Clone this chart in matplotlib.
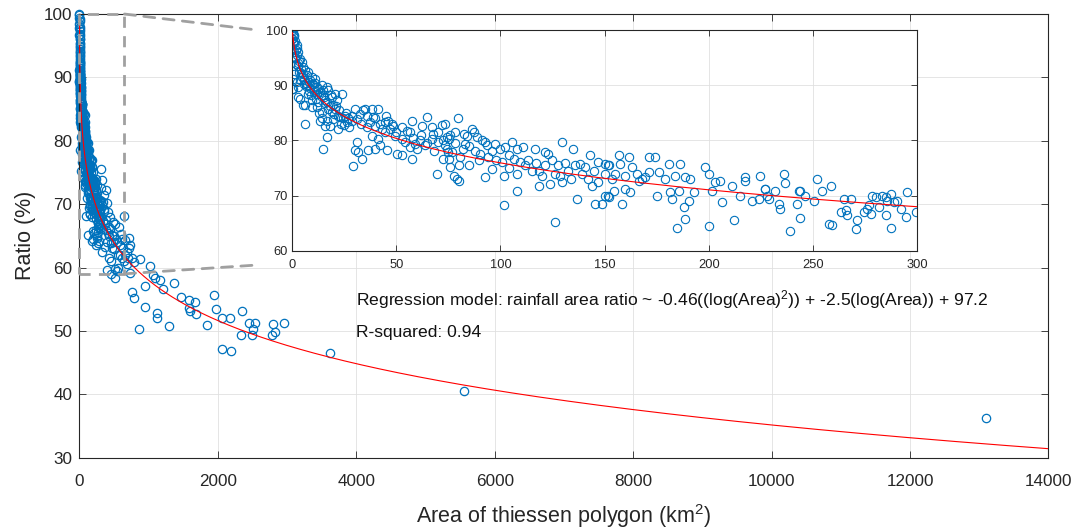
import numpy as np
import matplotlib.pyplot as plt
from matplotlib.patches import Rectangle, ConnectionPatch

plt.rcParams['font.family'] = ['Liberation Sans', 'DejaVu Sans']
plt.rcParams['mathtext.fontset'] = 'custom'
plt.rcParams['mathtext.rm'] = 'Liberation Sans'
plt.rcParams['mathtext.it'] = 'Liberation Sans:italic'
plt.rcParams['mathtext.bf'] = 'Liberation Sans:bold'

# (area km2, ratio %)
pts_small = [
    (0.2, 100.0), (0.6, 99.4), (0.2, 98.5), (1.1, 97.6), (0.2, 96.7), (2.2, 97.3),
    (3.0, 96.1), (1.4, 95.2), (3.8, 94.8), (4.6, 94.2), (3.0, 93.6), (5.4, 93.3),
    (6.2, 92.7), (7.8, 92.4), (7.0, 91.8), (9.4, 91.5), (8.6, 90.9), (11.0, 91.2),
    (10.2, 90.3), (11.8, 89.7), (12.6, 89.4), (14.2, 90.0), (16.6, 89.7), (13.4, 88.8),
    (15.0, 88.2), (17.4, 89.1), (20.6, 88.5), (23.8, 88.5), (19.0, 87.9), (21.4, 87.3),
    (15.8, 87.3), (12.6, 87.0), (9.4, 86.1), (6.2, 86.4), (3.8, 87.6), (3.0, 89.7),
    (0.2, 89.4), (0.6, 91.2), (2.2, 90.6), (6.2, 83.0), (13.4, 83.6), (16.6, 83.6),
    (15.8, 82.7), (19.0, 85.2), (19.8, 83.9), (22.2, 82.1), (16.6, 80.6), (15.0, 78.5),
    (18.2, 82.7), (14.2, 85.2), (17.4, 85.8), (20.6, 85.8), (23.0, 84.2), (25.4, 84.5),
    (0.3, 89.3), (1.0, 92.1), (3.0, 87.9), (5.4, 86.4), (0.5, 99.8), (0.8, 98.9),
    (1.5, 98.0), (1.8, 96.5), (2.5, 95.5), (2.8, 94.0), (4.2, 93.0), (5.0, 91.5),
    (6.8, 90.5), (8.0, 89.0), (9.0, 88.2), (10.5, 88.8), (11.5, 87.5), (12.0, 86.0),
    (13.0, 85.0), (14.5, 84.0), (16.0, 86.8), (18.0, 86.3), (20.0, 84.8), (22.5, 85.5),
    (24.5, 84.0), (26.5, 83.3), (27.5, 82.5), (4.0, 91.0), (7.5, 88.5), (3.5, 92.5),
    (9.8, 87.3), (1.2, 99.2), (0.4, 97.8), (2.0, 93.8), (5.8, 90.2),
    (0.9, 96.0), (1.6, 95.0), (2.4, 96.8), (3.2, 94.5), (4.4, 92.3), (5.2, 92.0),
    (6.0, 91.0), (6.6, 89.8), (7.2, 90.0), (8.2, 90.6), (8.8, 89.5), (9.6, 90.2),
    (10.8, 89.2), (11.2, 90.5), (12.2, 88.5), (13.8, 88.0), (14.8, 89.2), (15.5, 87.8),
    (17.0, 87.0), (18.5, 88.2), (19.5, 86.5), (21.0, 86.2), (22.0, 84.5), (23.5, 83.0),
    (25.0, 82.8), (26.0, 85.0), (27.0, 84.0),
]

pts_30_75 = [
    (28.6, 84.5), (30.2, 85.8), (31.0, 83.9), (35.0, 85.8), (32.6, 84.8), (38.2, 85.8),
    (41.4, 85.8), (39.0, 84.2), (39.8, 82.7), (37.4, 83.3), (44.6, 83.3), (46.2, 83.6),
    (47.8, 83.0), (48.6, 82.7), (43.0, 82.1), (44.6, 81.5), (41.4, 80.3), (38.2, 80.9),
    (35.8, 82.4), (31.0, 79.7), (30.2, 78.2), (31.8, 77.9), (33.4, 76.7), (29.4, 75.3),
    (36.6, 78.2), (39.8, 78.5), (42.2, 79.1), (45.4, 78.2), (50.2, 77.6), (52.6, 77.3),
    (49.4, 80.9), (52.6, 80.3), (55.0, 81.8), (56.6, 81.5), (57.4, 83.6), (54.2, 79.7),
    (56.6, 78.8), (59.0, 79.4), (57.4, 76.7), (61.4, 80.0), (63.8, 79.1), (67.0, 80.3),
    (67.8, 81.2), (64.6, 84.2), (62.2, 82.7), (67.0, 82.4), (71.8, 82.8), (70.2, 81.5),
    (72.6, 80.0), (74.2, 80.6), (73.4, 79.1), (69.4, 73.9), (72.6, 76.7), (75.0, 77.9),
    (29.0, 83.5), (33.0, 83.0), (34.0, 85.5), (36.0, 84.5), (40.0, 84.0), (42.0, 83.0),
    (45.0, 84.5), (47.0, 82.0), (50.0, 81.5), (53.0, 82.5), (58.0, 80.5), (60.0, 78.5),
    (62.0, 81.0), (65.0, 79.5), (68.0, 78.0), (70.0, 79.8),
]

pts_75_150 = [
    (73.5, 83.0), (75.1, 80.3), (79.5, 84.1), (78.3, 81.5), (82.3, 81.2), (83.9, 80.9),
    (86.3, 82.1), (87.1, 81.5), (88.7, 80.6), (91.1, 80.0), (92.6, 79.7), (93.4, 79.1),
    (97.5, 79.4), (99.9, 78.5), (102.3, 78.8), (105.5, 79.8), (107.9, 78.5), (111.0, 78.8),
    (116.7, 78.5), (121.5, 77.9), (123.0, 77.6), (129.5, 79.7), (135.0, 78.5), (143.0, 77.3),
    (147.0, 76.1), (150.2, 75.8), (76.7, 77.9), (80.7, 77.0), (79.9, 75.5), (77.5, 73.6),
    (79.9, 72.7), (79.1, 73.0), (84.7, 75.5), (89.5, 76.4), (92.6, 73.3), (95.9, 74.8),
    (101.5, 73.6), (100.7, 76.1), (103.9, 77.3), (106.3, 76.7), (109.5, 76.1), (111.9, 75.5),
    (115.1, 74.5), (118.3, 74.5), (121.5, 75.5), (124.6, 76.4), (127.8, 75.5), (128.6, 73.6),
    (129.5, 72.4), (132.6, 74.5), (135.8, 75.5), (138.2, 75.8), (140.6, 75.2), (143.8, 71.8),
    (142.2, 73.0), (147.0, 72.4), (150.2, 73.9), (151.8, 75.5), (101.5, 68.2), (107.9, 70.9),
    (118.3, 71.8), (123.9, 72.1), (126.2, 65.2), (136.6, 69.4), (145.4, 68.5), (148.6, 68.5),
    (151.8, 70.0), (75.1, 76.7), (75.9, 75.2), (83.1, 79.4), (74.3, 78.5),
    (76.0, 81.0), (78.0, 79.5), (82.0, 78.5), (85.0, 79.0), (88.0, 78.0), (90.0, 77.5),
    (94.0, 77.0), (96.0, 78.0), (98.0, 76.5), (104.0, 75.0), (108.0, 74.0), (113.0, 76.5),
    (117.0, 76.0), (120.0, 73.5), (126.0, 74.0), (131.0, 76.0), (134.0, 73.0), (139.0, 74.0),
    (145.0, 74.5),
]

pts_150_230 = [
    (151.9, 75.5), (156.7, 77.3), (157.5, 75.8), (161.5, 77.0), (163.1, 75.1), (155.1, 73.9),
    (159.9, 73.6), (165.5, 73.9), (167.9, 73.0), (171.1, 77.0), (174.3, 77.0), (171.1, 74.2),
    (175.9, 74.2), (180.7, 75.8), (186.3, 75.8), (179.1, 73.0), (183.9, 73.6), (188.7, 73.3),
    (191.1, 73.0), (185.5, 70.9), (182.3, 69.4), (181.5, 70.6), (192.7, 70.6), (190.3, 69.1),
    (187.9, 67.9), (188.7, 65.8), (184.7, 64.2), (175.1, 70.0), (169.5, 73.3), (166.3, 72.7),
    (158.3, 68.5), (151.9, 69.7), (154.3, 70.9), (159.9, 71.2), (162.3, 70.6), (198.3, 75.1),
    (199.9, 73.9), (203.1, 72.4), (205.5, 72.7), (201.5, 70.9), (206.3, 68.8), (211.1, 71.8),
    (215.1, 70.0), (217.5, 73.3), (217.5, 72.7), (224.7, 73.6), (227.1, 71.2), (220.7, 69.1),
    (223.9, 69.4), (228.7, 69.4), (199.9, 64.5), (211.9, 65.5), (150.3, 70.0), (153.5, 73.0),
]

pts_230_300 = [
    (227.1, 71.2), (227.9, 70.0), (231.9, 70.9), (233.5, 68.5), (234.3, 67.6), (235.9, 73.9),
    (236.7, 72.2), (239.1, 63.6), (242.3, 68.5), (243.1, 70.9), (243.9, 70.8), (243.9, 65.9),
    (246.3, 70.0), (250.3, 69.1), (251.9, 73.0), (254.3, 70.9), (258.3, 71.8), (257.5, 64.9),
    (259.1, 64.6), (263.1, 67.0), (264.7, 69.4), (265.5, 67.3), (266.3, 66.4), (267.9, 69.4),
    (270.3, 63.9), (271.1, 65.6), (274.3, 67.0), (275.9, 67.6), (276.7, 68.2), (277.5, 66.7),
    (278.3, 70.0), (279.9, 69.7), (281.5, 67.9), (283.1, 70.0), (284.7, 69.7), (284.7, 66.4),
    (285.5, 69.1), (287.1, 70.3), (287.1, 64.2), (288.7, 68.8), (290.3, 69.1), (291.9, 67.6),
    (294.3, 66.2), (295.1, 70.6), (299.1, 67.0),
]

pts_300_800 = [
    (310, 75.5), (330, 73.8), (350, 71.4), (380, 72.3), (320, 69.9), (340, 67.4),
    (360, 68.9), (380, 65.9), (400, 70.1), (410, 68.8), (420, 66.4), (430, 64.9),
    (440, 67.9), (460, 63.9), (471, 65.2), (480, 67.2), (500, 62.9), (519, 66.9),
    (530, 64.5), (550, 62.0), (567, 66.4), (580, 63.5), (600, 65.3), (615, 61.5),
    (630, 63.0), (645, 68.2), (650, 61.0), (663, 64.4), (680, 62.5), (711, 64.6),
    (711, 63.0), (735, 63.6), (783, 60.9), (423, 61.5), (519, 59.7), (399, 59.6),
    (735, 59.1), (327, 62.5), (560, 60.0), (700, 61.5), (370, 63.2), (450, 61.0),
    (395, 64.0), (335, 66.0), (505, 65.0), (545, 59.5), (310, 70.5), (350, 69.2),
    (513, 58.3), (460, 59.0), (305, 72.5), (315, 68.0), (345, 70.3), (365, 66.8),
    (390, 67.5), (415, 65.5), (445, 66.0), (475, 63.0), (490, 64.0), (540, 64.0),
    (590, 62.0), (620, 64.5), (655, 62.0), (690, 60.5), (760, 61.5),
]

pts_large = [
    (880, 61.3), (1024, 60.2), (1057, 58.8), (1168, 58.0), (1360, 57.5), (952, 57.1),
    (1096, 58.4), (1201, 56.6), (760, 56.2), (783, 55.2), (952, 53.7), (1120, 52.8),
    (1120, 52.0), (1288, 50.7), (855, 50.3), (1471, 55.4), (1586, 54.8), (1576, 53.6),
    (1600, 53.2), (1672, 54.5), (1682, 52.6), (1946, 55.6), (1971, 53.4), (2057, 52.0),
    (2177, 52.1), (1841, 51.0), (2345, 53.2), (2331, 49.4), (2451, 51.3), (2537, 51.3),
    (2513, 50.3), (2490, 49.3), (2792, 51.1), (2826, 49.8), (2787, 49.3), (2960, 51.3),
    (2066, 47.2), (2191, 46.8), (3619, 46.5), (5550, 40.5), (13100, 36.3),
]

# regression model shown on the chart
coef_sq = -0.46
coef_lin = -2.5
coef_const = 97.2
r_squared = 0.94

zoom_x = (0, 650)
zoom_y = (59, 100)

all_pts = pts_small + pts_30_75 + pts_75_150 + pts_150_230 + pts_230_300 + pts_300_800 + pts_large
area = np.array([p[0] for p in all_pts])
ratio = np.array([p[1] for p in all_pts])

a_fit = np.geomspace(0.3, 14000, 3000)
r_fit = coef_sq * np.log(a_fit) ** 2 + coef_lin * np.log(a_fit) + coef_const

blue = '#0072BD'
dark = '#262626'


def style_axes(a, fs, ticklen, pad_x, pad_y):
    a.tick_params(direction='in', top=True, right=True, length=ticklen, width=0.6,
                  colors=dark, labelsize=fs)
    a.tick_params(axis='x', pad=pad_x)
    a.tick_params(axis='y', pad=pad_y)
    for s in a.spines.values():
        s.set_color(dark)
        s.set_linewidth(0.8)
    a.grid(True, color='#e0e0e0', linewidth=0.6)
    a.set_axisbelow(True)


fig = plt.figure(figsize=(10.81, 5.31), dpi=100)
ax = fig.add_axes([0.0735, 0.1382, 0.8964, 0.8354])
ax.plot(area, ratio, 'o', mfc='none', mec=blue, ms=6, mew=0.9, ls='none', clip_on=False, zorder=2)
ax.plot(a_fit, r_fit, color='red', lw=0.8, zorder=3)
ax.set_xlim(0, 14000)
ax.set_ylim(30, 100)
ax.set_xticks(np.arange(0, 14001, 2000))
ax.set_yticks(np.arange(30, 101, 10))
style_axes(ax, 12.3, 5, 12, 5)
ax.set_xlabel('Area of thiessen polygon (km$^2$)', fontsize=15.5, color=dark, labelpad=9)
ax.set_ylabel('Ratio (%)', fontsize=15.5, color=dark, labelpad=6)

ax.text(4000, 54.9, 'Regression model: rainfall area ratio ~ %.2f((log(Area)$^2$)) + %.1f(log(Area)) + %.1f'
        % (coef_sq, coef_lin, coef_const), fontsize=12.6, va='center', ha='left', color='#111111')
ax.text(4000, 49.7, 'R-squared: %.2f' % r_squared, fontsize=12.6, va='center', ha='left', color='#111111')

# dashed zoom box and connectors
gray = '#a0a0a0'
ax.add_patch(Rectangle((zoom_x[0], zoom_y[0]), zoom_x[1] - zoom_x[0], zoom_y[1] - zoom_y[0],
                       fill=False, ec=gray, lw=2, ls=(0, (4, 3)), clip_on=False, zorder=4))
for y_a, y_b in [(zoom_y[1], 0.9435), (zoom_y[0], 0.5009)]:
    con = ConnectionPatch(xyA=(zoom_x[1], y_a), coordsA=ax.transData,
                          xyB=(0.2377, y_b), coordsB=fig.transFigure,
                          color=gray, lw=2, ls=(0, (4, 3)), zorder=4)
    fig.add_artist(con)

# inset
axin = fig.add_axes([0.2701, 0.5279, 0.5786, 0.4151], zorder=5)
axin.set_facecolor('white')
axin.plot(area, ratio, 'o', mfc='none', mec=blue, ms=6, mew=0.8, ls='none', zorder=2)
axin.plot(a_fit, r_fit, color='red', lw=0.8, zorder=3)
axin.set_xlim(0, 300)
axin.set_ylim(60, 100)
axin.set_xticks(np.arange(0, 301, 50))
axin.set_yticks(np.arange(60, 101, 10))
style_axes(axin, 9.3, 4, 6, 3)

fig.savefig('out.png', dpi=100)
